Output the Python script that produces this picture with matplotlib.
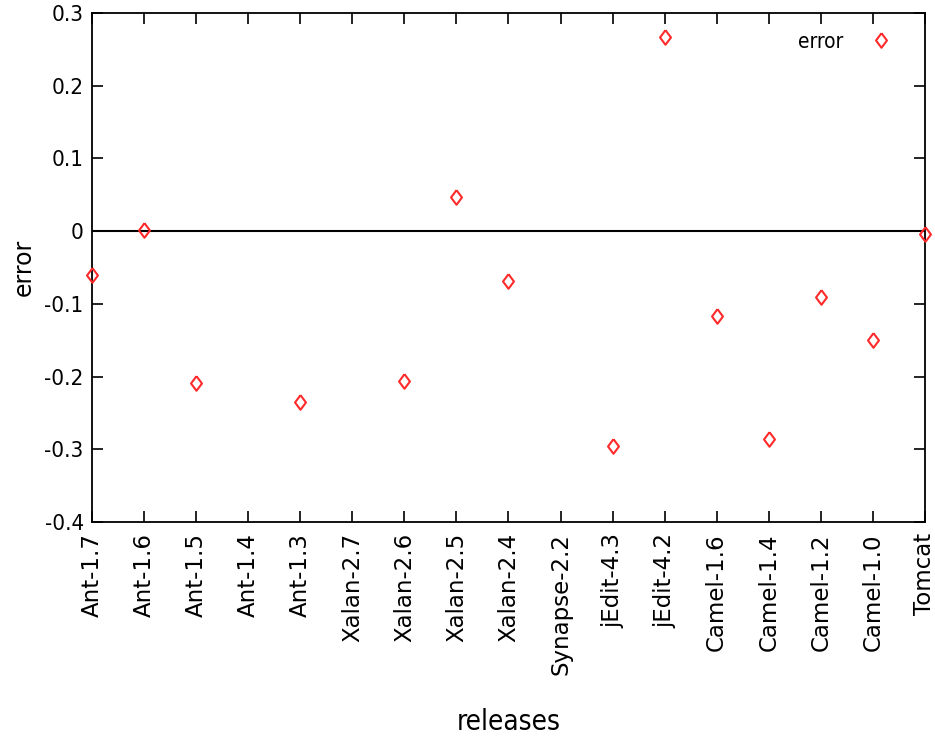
import matplotlib
matplotlib.use("Agg")
import matplotlib.pyplot as plt
import numpy as np

releases = ["Ant-1.7", "Ant-1.6", "Ant-1.5", "Ant-1.4", "Ant-1.3", "Xalan-2.7",
            "Xalan-2.6", "Xalan-2.5", "Xalan-2.4", "Synapse-2.2", "jEdit-4.3",
            "jEdit-4.2", "Camel-1.6", "Camel-1.4", "Camel-1.2", "Camel-1.0", "Tomcat"]
error = [-0.060, 0.002, -0.209, np.nan, -0.235, np.nan,
         -0.206, 0.047, -0.069, np.nan, -0.296,
         0.267, -0.117, -0.286, -0.091, -0.150, -0.004]
yticks = [-0.4, -0.3, -0.2, -0.1, 0, 0.1, 0.2, 0.3]
ytick_labels = ["-0.4", "-0.3", "-0.2", "-0.1", "0", "0.1", "0.2", "0.3"]

# gnuplot-ish diamond, a bit taller than wide
diamond = [(0, 1), (0.75, 0), (0, -1), (-0.75, 0), (0, 1)]

fig = plt.figure(figsize=(9.35, 7.4), dpi=100)
fig.subplots_adjust(left=0.0984, right=0.9893, top=0.9824, bottom=0.2946)
ax = fig.add_subplot(111)

x = np.arange(len(releases))
ax.axhline(0, color="black", linewidth=1.5, zorder=1)
ax.plot(x, error, linestyle="none", marker=diamond, markersize=10.5, markerfacecolor="none",
        markeredgecolor="#ff2a2a", markeredgewidth=1.5, clip_on=False, zorder=3)

ax.set_xlim(0, len(releases) - 1)
ax.set_ylim(-0.4, 0.3)
ax.set_xticks(x)
ax.set_xticklabels(releases, rotation=90, fontsize=16.5, family="DejaVu Sans")
ax.set_yticks(yticks)
ax.set_yticklabels(ytick_labels, fontsize=16, family="DejaVu Sans", fontstretch="condensed")
ax.tick_params(direction="in", length=8, width=1.2, top=True, right=True, pad=6)
ax.tick_params(axis="x", pad=8)
for s in ax.spines.values():
    s.set_linewidth(1.3)

ax.set_ylabel("error", fontsize=17, family="DejaVu Sans", labelpad=6)
ax.set_xlabel("releases", fontsize=20, family="DejaVu Sans", fontstretch="condensed",
              labelpad=24)

# legend key drawn by hand like gnuplot
ax.text(0.902, 0.943, "error", transform=ax.transAxes, fontsize=15, family="DejaVu Sans",
        fontstretch="condensed", ha="right", va="center")
ax.plot([0.947], [0.947], transform=ax.transAxes, marker=diamond, markersize=10.5,
        markerfacecolor="none", markeredgecolor="#ff2a2a", markeredgewidth=1.5)

fig.savefig("out.png", dpi=100)
